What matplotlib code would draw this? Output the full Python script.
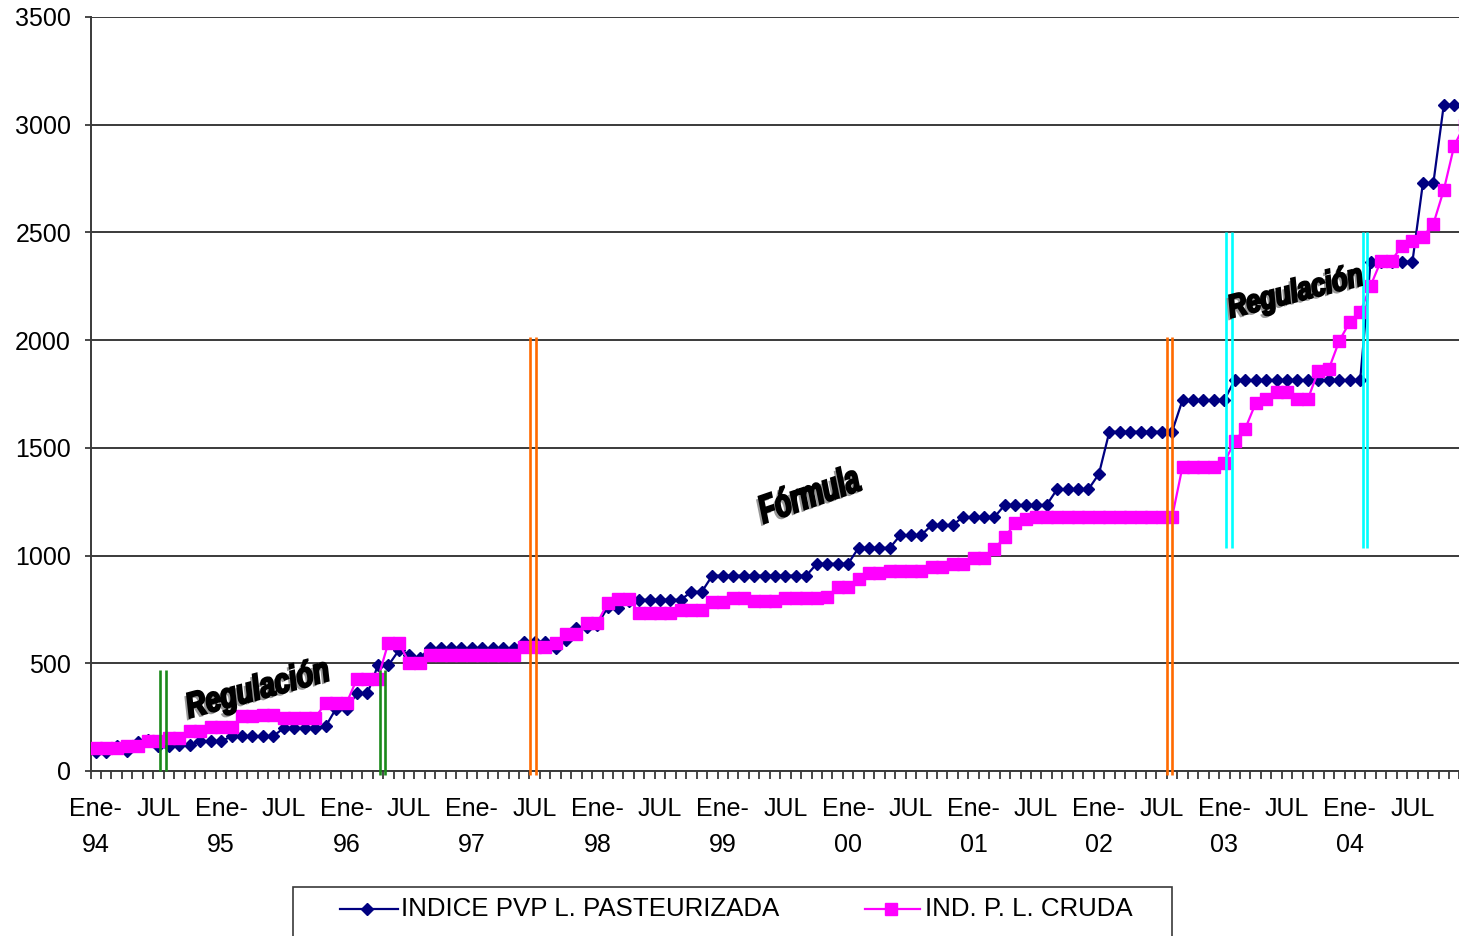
import numpy as np
import matplotlib
matplotlib.use("Agg")
import matplotlib.pyplot as plt
import matplotlib.patheffects as pe
import matplotlib.transforms as mtransforms
from matplotlib.lines import Line2D
from matplotlib.patches import Rectangle, PathPatch
from matplotlib.textpath import TextPath
from matplotlib.font_manager import FontProperties

plt.rcParams['font.family'] = ['Liberation Sans', 'DejaVu Sans']

# indices mensuales, ene-94 .. dic-04 (una fila por año)
pasteurizada = [
    90, 88, 115, 95, 133, 143, 115, 115, 120, 122, 137, 137,
    137, 162, 162, 162, 162, 162, 200, 200, 200, 200, 207, 290,
    290, 360, 360, 490, 490, 560, 540, 525, 570, 570, 570, 570,
    570, 570, 570, 570, 570, 600, 600, 600, 570, 608, 662, 670,
    678, 760, 755, 790, 795, 795, 795, 795, 795, 832, 832, 907,
    907, 907, 907, 907, 907, 907, 907, 907, 907, 962, 962, 962,
    962, 1036, 1036, 1036, 1036, 1095, 1095, 1095, 1142, 1142, 1142, 1179,
    1179, 1179, 1179, 1235, 1235, 1235, 1235, 1235, 1308, 1308, 1308, 1308,
    1379, 1575, 1575, 1575, 1575, 1575, 1575, 1575, 1722, 1722, 1722, 1722,
    1722, 1815, 1815, 1815, 1815, 1815, 1815, 1815, 1815, 1815, 1815, 1815,
    1815, 1815, 2364, 2364, 2364, 2364, 2364, 2728, 2728, 3092, 3092, 3092,
]
cruda = [
    105, 105, 105, 118, 118, 138, 138, 152, 152, 185, 185, 205,
    205, 205, 255, 255, 262, 262, 248, 248, 248, 248, 315, 315,
    315, 428, 428, 428, 595, 595, 503, 503, 540, 540, 540, 540,
    540, 540, 540, 540, 540, 574, 574, 574, 596, 636, 636, 688,
    688, 781, 800, 800, 735, 735, 735, 735, 748, 748, 748, 786,
    786, 802, 802, 791, 791, 791, 802, 802, 802, 802, 809, 855,
    855, 893, 918, 918, 928, 928, 928, 928, 945, 945, 961, 961,
    990, 990, 1031, 1086, 1151, 1170, 1178, 1178, 1178, 1178, 1178, 1178,
    1178, 1178, 1178, 1178, 1178, 1178, 1178, 1178, 1413, 1413, 1413, 1413,
    1430, 1533, 1589, 1707, 1727, 1758, 1758, 1727, 1727, 1858, 1866, 1997,
    2083, 2129, 2253, 2369, 2369, 2438, 2462, 2480, 2539, 2697, 2903, 3000,
]
tick_labels = ['Ene-\n94', 'JUL', 'Ene-\n95', 'JUL', 'Ene-\n96', 'JUL',
               'Ene-\n97', 'JUL', 'Ene-\n98', 'JUL', 'Ene-\n99', 'JUL',
               'Ene-\n00', 'JUL', 'Ene-\n01', 'JUL', 'Ene-\n02', 'JUL',
               'Ene-\n03', 'JUL', 'Ene-\n04', 'JUL']
series_names = ['INDICE PVP L. PASTEURIZADA', 'IND. P. L. CRUDA']

BLUE = '#000080'
PINK = '#ff00ff'

W, H = 1459, 936
fig = plt.figure(figsize=(W / 100, H / 100), dpi=100)
# plot area runs past the right edge of the picture (chart is cropped there)
ax = fig.add_axes([90.5 / W, 165 / H, 1379.4 / W, 754 / H])

x = np.arange(len(pasteurizada))
ax.plot(x, pasteurizada, color=BLUE, lw=1.6, marker='D', ms=6.4,
        mfc=BLUE, mec=BLUE, zorder=3)
ax.plot(x, cruda, color=PINK, lw=1.6, marker='s', ms=8.4,
        mfc=PINK, mec=PINK, zorder=4)

ax.set_xlim(-0.5, len(x) - 0.5)
ax.set_ylim(0, 3500)
ax.set_yticks(range(0, 3501, 500))
ax.yaxis.grid(True, color='#3a3a3a', lw=1.4)
ax.set_axisbelow(True)
for s in ['top', 'right']:
    ax.spines[s].set_visible(False)
ax.spines['left'].set_linewidth(1.4)
ax.spines['bottom'].set_linewidth(1.4)
ax.spines['left'].set_color('#3a3a3a')
ax.spines['bottom'].set_color('#3a3a3a')

ax.set_xticks(np.arange(-0.5, len(x), 1), minor=True)
ax.set_xticks(np.arange(0, len(x), 6))
ax.set_xticklabels(tick_labels)
for lab in ax.get_xticklabels():
    lab.set_linespacing(1.6)
ax.tick_params(axis='x', which='major', length=0, pad=19, labelsize=18)
ax.tick_params(axis='x', which='minor', length=5.5, width=1.3, color='#3a3a3a')
ax.tick_params(axis='y', length=4, width=1.3, color='#3a3a3a', pad=10,
               labelsize=18)

# double vertical marker lines
pairs = [
    (6.15, 6.7, 0, 470, '#1a8a1a'),
    (27.2, 27.7, -18, 470, '#1a8a1a'),
    (41.6, 42.1, -18, 2015, '#ff6a00'),
    (102.5, 103.0, -18, 2015, '#ff6a00'),
    (108.2, 108.7, 1035, 2502, '#00ffff'),
    (121.25, 121.7, 1035, 2502, '#00ffff'),
]
for xa, xb, y0, y1, c in pairs:
    ax.vlines([xa, xb], y0, y1, colors=c, lw=1.9, zorder=5, clip_on=False)


# WordArt-like labels: condensed heavy italic text, rotated
def wordart(s, xc, yc, em, sx, angle):
    fp = FontProperties(family='Liberation Sans', weight='bold', style='italic')
    tp = TextPath((0, 0), s, size=em, prop=fp)
    bb = tp.get_extents()
    tr = (mtransforms.Affine2D()
          .translate(-(bb.x0 + bb.x1) / 2, -(bb.y0 + bb.y1) / 2)
          .scale(sx, 1.0).rotate_deg(angle)
          + mtransforms.ScaledTranslation(xc, yc, ax.transData))
    p = PathPatch(tp, transform=tr, fc='black', ec='black', lw=1.6, zorder=6,
                  clip_on=False)
    p.set_path_effects([pe.SimplePatchShadow(offset=(-2, -2),
                                             shadow_rgbFace='#808080', alpha=0.8),
                        pe.Normal()])
    ax.add_patch(p)


wordart('Regulación', 15.5, 376, 35, 0.78, 15)
wordart('Fórmula', 68.2, 1290, 39, 0.68, 19)
wordart('Regulación', 114.8, 2219, 32, 0.80, 14)

# legend (box is cut at the bottom of the picture)
fig.add_artist(Rectangle((293 / W, (936 - 950) / H), (1172 - 293) / W, (950 - 887) / H,
                         transform=fig.transFigure, fill=False, ec='#3a3a3a', lw=1.2))
ly = 1 - 909 / H
fig.add_artist(Line2D([340 / W, 398 / W], [ly, ly], color=BLUE, lw=1.6,
                      transform=fig.transFigure))
fig.add_artist(Line2D([367 / W], [ly], marker='D', ms=6.4, color=BLUE,
                      transform=fig.transFigure))
fig.text(401 / W, ly, series_names[0], va='center', fontsize=18.6)
fig.add_artist(Line2D([865 / W, 920 / W], [ly, ly], color=PINK, lw=1.6,
                      transform=fig.transFigure))
fig.add_artist(Line2D([891 / W], [ly], marker='s', ms=8.4, color=PINK,
                      transform=fig.transFigure))
fig.text(925 / W, ly, series_names[1], va='center', fontsize=18.6)

fig.savefig('out.png', dpi=100)
